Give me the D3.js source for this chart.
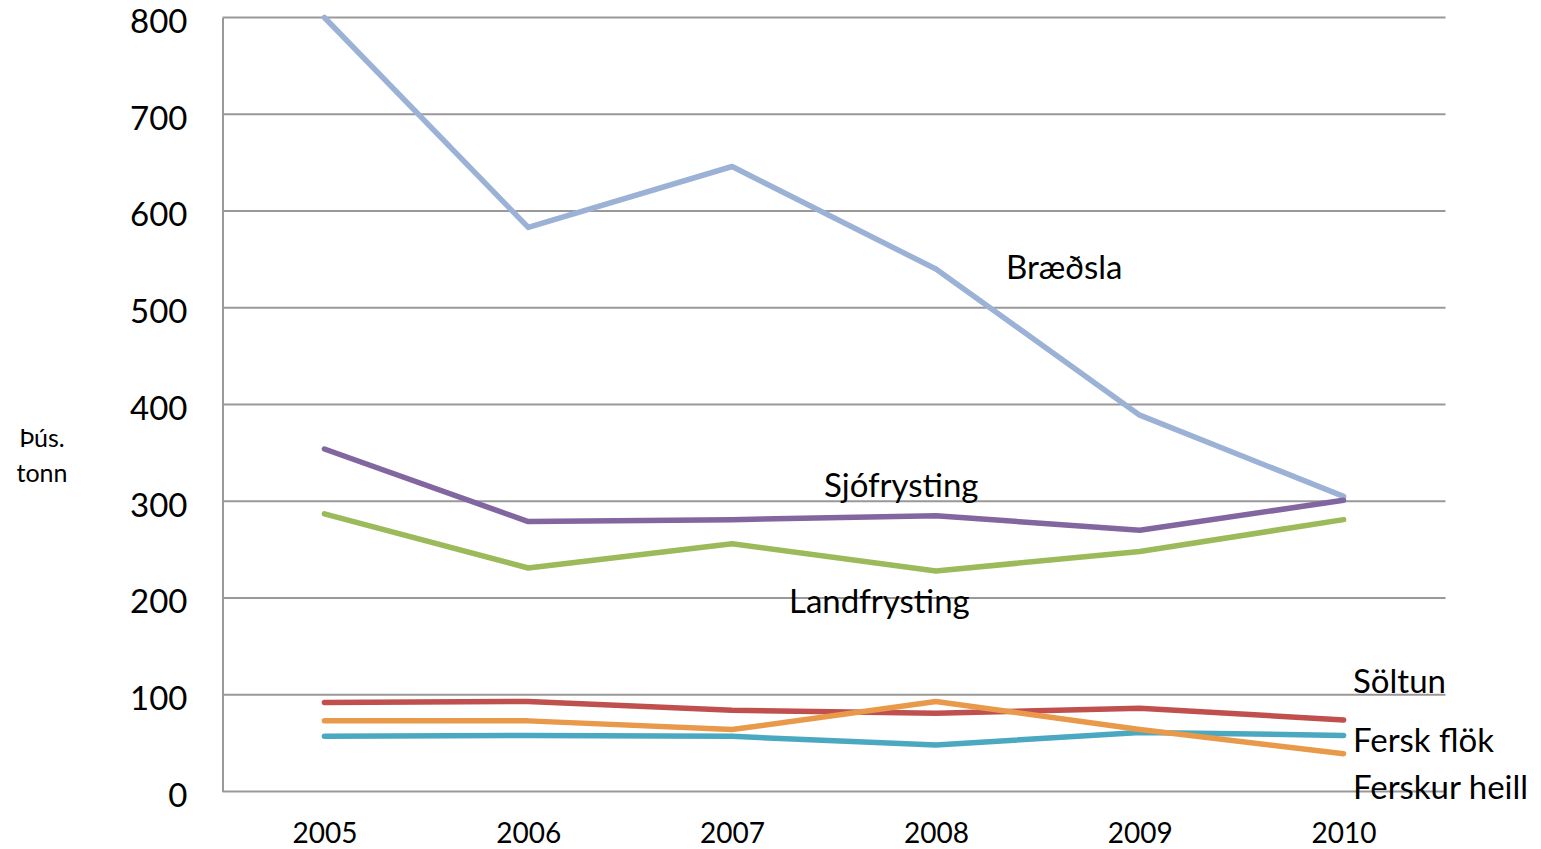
<!DOCTYPE html>
<html><head><meta charset="utf-8">
<script src="https://cdn.jsdelivr.net/npm/d3@7"></script>
<style>body{margin:0;background:#fff}svg{display:block}text{font-family:Lato,"Open Sans",sans-serif;fill:#000}</style>
</head><body>
<svg id="c" width="1541" height="849"></svg>
<script>
const years = ["2005","2006","2007","2008","2009","2010"];
const yTicks = [0,100,200,300,400,500,600,700,800];
const braedsla = [800,583,646,540,389,305];
const sjofrysting = [354,279,281,285,270,301];
const landfrysting = [287,231,256,228,248,281];
const soltun = [92,93,84,81,86,74];
const ferskFlok = [57,58,57,48,61,58];
const ferskurHeill = [73,73,64,93,64,39];
const seriesNames = ["Bræðsla","Sjófrysting","Landfrysting","Söltun","Fersk flök","Ferskur heill"];
const colors = ["#9bb2d6","#8266a0","#9bba59","#c0504d","#4aa9c0","#e9994a"];
const series = [braedsla,sjofrysting,landfrysting,soltun,ferskFlok,ferskurHeill];
const labelPos = [[1006,267],[824,485],[789,601],[1353,681],[1353,740],[1353,787]];

const svg = d3.select("#c");
const L=222.5,R=1445.5,T=17.5,B=791.5;
const x = d3.scalePoint().domain(years).range([L,R]).padding(0.5);
const y = d3.scaleLinear().domain([0,800]).range([B,T]);

svg.append("g").selectAll("line").data(yTicks.slice(1)).join("line")
  .attr("x1",L).attr("x2",R).attr("y1",d=>y(d)).attr("y2",d=>y(d))
  .attr("stroke","#999").attr("stroke-width",2);

const yAxis = svg.append("g").attr("transform",`translate(${L},0)`)
  .call(d3.axisLeft(y).tickValues(yTicks).tickSize(0).tickPadding(35));
yAxis.select(".domain").attr("stroke","#999").attr("stroke-width",2);
yAxis.selectAll("text").style("font-size","33px").attr("dy","0.45em");

const xAxis = svg.append("g").attr("transform",`translate(0,${B})`)
  .call(d3.axisBottom(x).tickSize(0).tickPadding(32));
xAxis.select(".domain").attr("stroke","#999").attr("stroke-width",2).attr("d",`M${L},0H${R}`);
xAxis.selectAll("text").style("font-size","28px");

const line = d3.line().x((d,i)=>x(years[i])).y(d=>y(d));
series.forEach((s,k)=>{
  svg.append("path").datum(s).attr("d",line).attr("fill","none")
    .attr("stroke",colors[k]).attr("stroke-width",5.5).attr("stroke-linecap","round").attr("stroke-linejoin","round");
});
series.forEach((s,k)=>{
  svg.append("text").attr("x",labelPos[k][0]).attr("y",labelPos[k][1]).attr("dy","0.35em")
    .style("font-size","33px").text(seriesNames[k]);
});
svg.append("text").attr("x",42).attr("y",438).attr("dy","0.35em").attr("text-anchor","middle").style("font-size","25px").text("Þús.");
svg.append("text").attr("x",42).attr("y",473).attr("dy","0.35em").attr("text-anchor","middle").style("font-size","25px").text("tonn");
</script>
</body></html>
